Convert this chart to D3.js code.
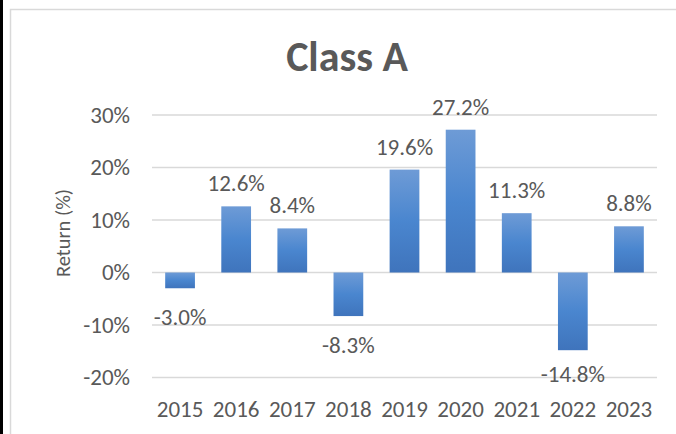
<!DOCTYPE html>
<html>
<head>
<meta charset="utf-8">
<script src="https://cdn.jsdelivr.net/npm/d3@7"></script>
<style>
    body { margin: 0; background: #000; }
    #chart { position: absolute; left: 3px; top: 0; width: 673px; height: 434px; background: #fff; }
    text { font-family: Carlito, Calibri, Lato, sans-serif; fill: #595959; }
</style>
</head>
<body>
<div id="chart"></div>
<script>

// data
let years = ["2015", "2016", "2017", "2018", "2019", "2020", "2021", "2022", "2023"];
let returns = [-3.0, 12.6, 8.4, -8.3, 19.6, 27.2, 11.3, -14.8, 8.8];
let yTicks = [-20, -10, 0, 10, 20, 30];

let data = years.map((y, i) => ({year: y, value: returns[i]}));

// sizes (chart div starts at page x=3)
let width = 673, height = 434;
let margin = {top: 115, right: 19, bottom: 56.5, left: 149};
let innerW = width - margin.left - margin.right;
let innerH = height - margin.top - margin.bottom;

let svg = d3.select("#chart").append("svg")
    .attr("width", width)
    .attr("height", height);

// chart frame
svg.append("path")
    .attr("d", "M7.5,434 L7.5,9.5 L673,9.5")
    .attr("fill", "none")
    .attr("stroke", "#d9d9d9")
    .attr("stroke-width", 1.5);

// gradient for the bars
let defs = svg.append("defs");
let grad = defs.append("linearGradient")
    .attr("id", "barGrad")
    .attr("x1", 0).attr("y1", 0).attr("x2", 0).attr("y2", 1);
grad.append("stop").attr("offset", "0%").attr("stop-color", "#6e9bd6");
grad.append("stop").attr("offset", "50%").attr("stop-color", "#4a86cf");
grad.append("stop").attr("offset", "100%").attr("stop-color", "#3f74bc");

let g = svg.append("g")
    .attr("transform", "translate(" + margin.left + "," + margin.top + ")");

// scales
let x = d3.scaleBand()
    .domain(years)
    .range([0, innerW])
    .paddingInner(0.47)
    .paddingOuter(0.235);

let y = d3.scaleLinear()
    .domain([-20, 30])
    .range([innerH, 0]);

// title
svg.append("text")
    .attr("x", 344)
    .attr("y", 70.5)
    .attr("text-anchor", "middle")
    .style("font-size", "42px")
    .style("font-weight", "bold")
    .text("Class A");

// y axis title
svg.append("text")
    .attr("transform", "translate(67,233) rotate(-90)")
    .attr("text-anchor", "middle")
    .style("font-size", "20.5px")
    .text("Return (%)");

// gridlines
g.selectAll(".grid")
    .data(yTicks)
    .enter()
    .append("line")
    .attr("class", "grid")
    .attr("x1", 0)
    .attr("x2", innerW)
    .attr("y1", d => y(d))
    .attr("y2", d => y(d))
    .attr("stroke", "#d9d9d9")
    .attr("stroke-width", 1.5);

// y axis labels
let yAxis = d3.axisLeft(y)
    .tickValues(yTicks)
    .tickFormat(d => d + "%")
    .tickSize(0)
    .tickPadding(22);

g.append("g")
    .call(yAxis)
    .call(a => a.select(".domain").remove())
    .call(a => a.selectAll("text")
        .style("font-size", "23px")
        .style("font-family", "Carlito, Calibri, Lato, sans-serif")
        .attr("fill", "#595959"));

// x axis labels
let xAxis = d3.axisBottom(x)
    .tickSize(0)
    .tickPadding(0);

g.append("g")
    .attr("transform", "translate(0," + innerH + ")")
    .call(xAxis)
    .call(a => a.select(".domain").remove())
    .call(a => a.selectAll("text")
        .attr("dy", "1.72em")
        .style("font-size", "23px")
        .style("font-family", "Carlito, Calibri, Lato, sans-serif")
        .attr("fill", "#595959"));

// bars
g.selectAll(".bar")
    .data(data)
    .enter()
    .append("rect")
    .attr("class", "bar")
    .attr("x", d => x(d.year))
    .attr("width", x.bandwidth())
    .attr("y", d => y(Math.max(0, d.value)))
    .attr("height", d => Math.abs(y(d.value) - y(0)))
    .attr("fill", "url(#barGrad)");

// data labels
g.selectAll(".dlabel")
    .data(data)
    .enter()
    .append("text")
    .attr("class", "dlabel")
    .attr("x", d => x(d.year) + x.bandwidth() / 2)
    .attr("y", d => d.value >= 0 ? y(d.value) - 23 : Math.min(y(d.value) + 29, innerH - 3.5))
    .attr("dy", "0.35em")
    .attr("text-anchor", "middle")
    .style("font-size", "23px")
    .text(d => d.value.toFixed(1) + "%");

</script>
</body>
</html>
